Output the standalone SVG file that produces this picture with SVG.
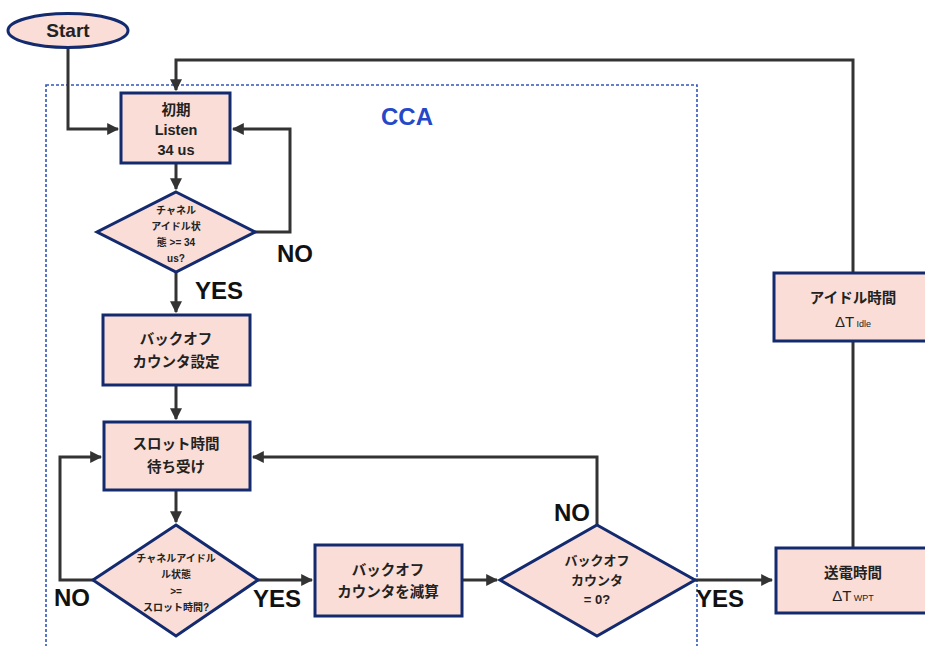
<svg xmlns="http://www.w3.org/2000/svg" width="925" height="646" viewBox="0 0 925 646">
<defs>
<style>
.n{fill:#f9ddd6;stroke:#142a6e;stroke-width:3}
.t{font-family:"Liberation Sans","Noto Sans CJK JP",sans-serif;font-weight:bold;fill:#222;text-anchor:middle;dominant-baseline:central}
.b{font-size:14.5px}
.d{font-size:10px}
.lab{font-family:"Liberation Sans",sans-serif;font-weight:bold;font-size:24px;fill:#111;text-anchor:middle;dominant-baseline:central}
.c{fill:none;stroke:#333;stroke-width:3}
</style>
<marker id="ah" viewBox="0 0 10 10" refX="9" refY="5" markerWidth="4" markerHeight="4" orient="auto" markerUnits="strokeWidth">
<path d="M0,0 L10,5 L0,10 z" fill="#333"/>
</marker>
</defs>
<rect width="925" height="646" fill="#fff"/>
<g id="cca">
<rect x="46" y="85" width="651" height="600" fill="none" stroke="#3355bb" stroke-width="1.6" stroke-dasharray="3,2"/>
<text x="407" y="116" font-family="Liberation Sans,sans-serif" font-weight="bold" font-size="24" fill="#2448c8" text-anchor="middle" dominant-baseline="central">CCA</text>
</g>
<g id="connectors">
<polyline class="c" points="68,48 68,129 118,129" marker-end="url(#ah)"/>
<polyline class="c" points="853,273 853,60 176,60 176,90" marker-end="url(#ah)"/>
<line class="c" x1="176" y1="163" x2="176" y2="189" marker-end="url(#ah)"/>
<polyline class="c" points="255,232 290,232 290,129 233,129" marker-end="url(#ah)"/>
<line class="c" x1="176" y1="272" x2="176" y2="312" marker-end="url(#ah)"/>
<line class="c" x1="176" y1="385" x2="176" y2="419" marker-end="url(#ah)"/>
<line class="c" x1="176" y1="490" x2="176" y2="522" marker-end="url(#ah)"/>
<polyline class="c" points="93,580 60,580 60,457 101,457" marker-end="url(#ah)"/>
<line class="c" x1="258" y1="580" x2="312" y2="580" marker-end="url(#ah)"/>
<line class="c" x1="462" y1="580" x2="497" y2="580" marker-end="url(#ah)"/>
<polyline class="c" points="597,525 597,457 253,457" marker-end="url(#ah)"/>
<line class="c" x1="695" y1="580" x2="772" y2="580" marker-end="url(#ah)"/>
<line class="c" x1="853" y1="548" x2="853" y2="341"/>
<text class="lab" x="295" y="253">NO</text>
<text class="lab" x="219" y="290">YES</text>
<text class="lab" x="72" y="597">NO</text>
<text class="lab" x="277" y="598">YES</text>
<text class="lab" x="572" y="512">NO</text>
<text class="lab" x="720" y="598">YES</text>
</g>
<g id="start">
<ellipse class="n" cx="68" cy="30.5" rx="60" ry="17"/>
<text class="t" x="68" y="30.5" font-size="19">Start</text>
</g>
<g id="listen">
<rect class="n" x="121" y="93" width="109" height="70"/>
<text class="t b" x="176" y="110">初期</text>
<text class="t b" x="176" y="130">Listen</text>
<text class="t b" x="176" y="150">34  us</text>
</g>
<g id="check1">
<polygon class="n" points="176,192 255,232 176,272 97,232"/>
<text class="t d" x="176" y="210">チャネル</text>
<text class="t d" x="176" y="226">アイドル状</text>
<text class="t d" x="176" y="242">態  &gt;= 34</text>
<text class="t d" x="176" y="258">us?</text>
</g>
<g id="setcounter">
<rect class="n" x="103" y="315" width="147" height="70"/>
<text class="t b" x="176" y="339">バックオフ</text>
<text class="t b" x="176" y="362">カウンタ設定</text>
</g>
<g id="slotwait">
<rect class="n" x="104" y="422" width="146" height="68"/>
<text class="t b" x="176" y="444">スロット時間</text>
<text class="t b" x="176" y="467">待ち受け</text>
</g>
<g id="check2">
<polygon class="n" points="176,525 258,580 176,636 93,580"/>
<text class="t d" x="176" y="558">チャネルアイドル</text>
<text class="t d" x="176" y="574">ル状態</text>
<text class="t d" x="176" y="591">&gt;=</text>
<text class="t d" x="176" y="607">スロット時間?</text>
</g>
<g id="decrement">
<rect class="n" x="315" y="545" width="147" height="71"/>
<text class="t b" x="388" y="570">バックオフ</text>
<text class="t b" x="388" y="592">カウンタを減算</text>
</g>
<g id="check3">
<polygon class="n" points="597,525 695,580 597,636 500,580"/>
<text class="t" x="597" y="560" font-size="13">バックオフ</text>
<text class="t" x="597" y="580" font-size="13">カウンタ</text>
<text class="t" x="597" y="599" font-size="13">= 0?</text>
</g>
<g id="idle">
<rect class="n" x="774" y="273" width="170" height="68"/>
<text class="t b" x="853" y="298">アイドル時間</text>
<text class="t" x="853" y="321" font-size="15" style="font-weight:normal">ΔT<tspan font-size="9" dy="3"> Idle</tspan></text>
</g>
<g id="wpt">
<rect class="n" x="776" y="548" width="170" height="65"/>
<text class="t b" x="853" y="573">送電時間</text>
<text class="t" x="853" y="595" font-size="15" style="font-weight:normal">ΔT<tspan font-size="9" dy="3"> WPT</tspan></text>
</g>
</svg>
